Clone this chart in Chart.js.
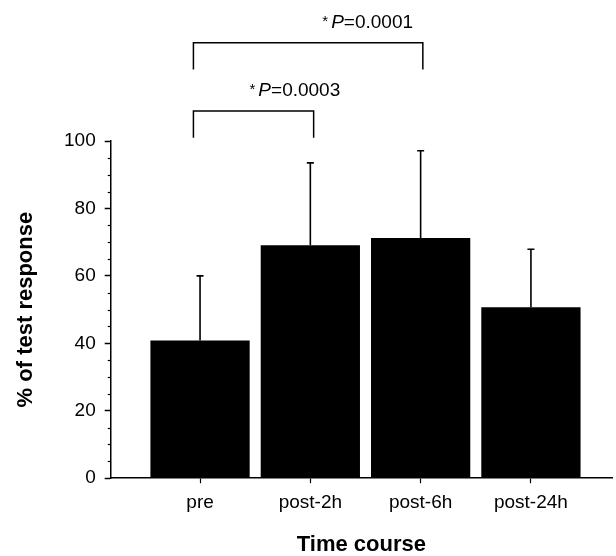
<!DOCTYPE html>
<html>
<head>
<meta charset="utf-8">
<script src="https://cdn.jsdelivr.net/npm/chart.js@4.4.1/dist/chart.umd.min.js"></script>
<style>
  html, body { margin: 0; padding: 0; background: #fff; }
  #wrap { width: 616px; height: 556px; position: relative; }
</style>
</head>
<body>
<div id="wrap"><canvas id="chart"></canvas></div>
<script>
// ── Data ────────────────────────────────────────────────────────────────────
const categories = ['pre', 'post-2h', 'post-6h', 'post-24h'];
const positions = [1, 2, 3, 4];
const means = [40.8, 69.1, 71.2, 50.7];
const sdUpper = [19.2, 24.4, 25.9, 17.2];

// significance brackets (x in category units, y in % units)
const bracketFrom = [0.94, 0.94];
const bracketTo = [3.02, 2.03];
const bracketTop = [129.1, 108.9];
const bracketLeg = [121.2, 101.0];
const bracketP = ['0.0001', '0.0003'];
const bracketTextX = [2.52, 1.86];
const bracketTextY = [135.1, 115.0];

const yMajorTicks = [0, 20, 40, 60, 80, 100];
const yMinorStep = 5;

const FONT = "'Liberation Sans', Arial, Helvetica, sans-serif";

// ── Plugin: error bars, minor ticks, brackets ───────────────────────────────
const extras = {
  id: 'extras',
  afterDraw(chart) {
    const { ctx } = chart;
    const x = chart.scales.x;
    const y = chart.scales.y;
    ctx.save();
    ctx.strokeStyle = '#000';
    ctx.fillStyle = '#000';

    // error bars (upper only)
    ctx.lineWidth = 1.6;
    means.forEach((m, i) => {
      const px = x.getPixelForValue(positions[i]);
      const y0 = y.getPixelForValue(m);
      const y1 = y.getPixelForValue(m + sdUpper[i]);
      ctx.beginPath();
      ctx.moveTo(px, y0);
      ctx.lineTo(px, y1);
      ctx.moveTo(px - 3.5, y1);
      ctx.lineTo(px + 3.5, y1);
      ctx.stroke();
    });

    // minor ticks on the y axis
    ctx.lineWidth = 1.2;
    const axisX = chart.chartArea.left;
    for (let v = y.min; v <= y.max; v += yMinorStep) {
      if (yMajorTicks.includes(v)) continue;
      const py = Math.round(y.getPixelForValue(v)) + 0.5;
      ctx.beginPath();
      ctx.moveTo(axisX - 3, py);
      ctx.lineTo(axisX, py);
      ctx.stroke();
    }

    // brackets
    ctx.lineWidth = 1.5;
    bracketFrom.forEach((from, i) => {
      const xa = x.getPixelForValue(from);
      const xb = x.getPixelForValue(bracketTo[i]);
      const yt = y.getPixelForValue(bracketTop[i]);
      const yl = y.getPixelForValue(bracketLeg[i]);
      ctx.beginPath();
      ctx.moveTo(xa, yl);
      ctx.lineTo(xa, yt);
      ctx.lineTo(xb, yt);
      ctx.lineTo(xb, yl);
      ctx.stroke();

      // "*P=0.000x" label
      const starFont = `15px ${FONT}`;
      const pFont = `italic 19px ${FONT}`;
      const numFont = `19px ${FONT}`;
      const rest = '=' + bracketP[i];
      ctx.font = starFont;
      const wStar = ctx.measureText('*').width + 3;
      ctx.font = pFont;
      const wP = ctx.measureText('P').width;
      ctx.font = numFont;
      const wRest = ctx.measureText(rest).width;
      const total = wStar + wP + wRest;
      let cx = x.getPixelForValue(bracketTextX[i]) - total / 2;
      const cy = y.getPixelForValue(bracketTextY[i]);
      ctx.textBaseline = 'middle';
      ctx.textAlign = 'left';
      ctx.font = starFont;
      ctx.fillText('*', cx, cy - 1);
      cx += wStar;
      ctx.font = pFont;
      ctx.fillText('P', cx, cy);
      cx += wP;
      ctx.font = numFont;
      ctx.fillText(rest, cx, cy);
    });

    ctx.restore();
  }
};

// ── Chart ───────────────────────────────────────────────────────────────────
new Chart(document.getElementById('chart').getContext('2d'), {
  type: 'bar',
  data: {
    datasets: [{
      data: positions.map((p, i) => ({ x: p, y: means[i] })),
      backgroundColor: '#000',
      borderWidth: 0,
      barPercentage: 0.9,
      categoryPercentage: 1
    }]
  },
  options: {
    responsive: true,
    maintainAspectRatio: false,
    animation: false,
    layout: { padding: { top: 141, right: 4, left: 2, bottom: 0 } },
    plugins: {
      legend: { display: false },
      tooltip: { enabled: false }
    },
    scales: {
      x: {
        type: 'linear',
        offset: false,
        min: 0.19,
        max: 4.735,
        afterBuildTicks: scale => {
          scale.ticks = positions.map(v => ({ value: v }));
        },
        ticks: {
          autoSkip: false,
          maxRotation: 0,
          padding: 8,
          color: '#000',
          font: { family: FONT, size: 19 },
          callback: v => categories[positions.indexOf(v)] ?? ''
        },
        grid: {
          offset: false,
          drawOnChartArea: false,
          tickLength: 5,
          tickColor: '#000',
          tickWidth: 1.2
        },
        border: { color: '#000', width: 1.5 },
        title: {
          display: true,
          text: 'Time course',
          color: '#000',
          font: { family: FONT, size: 22, weight: 'bold', lineHeight: 1 },
          padding: { top: 12, bottom: 0 }
        }
      },
      y: {
        min: 0,
        max: 100,
        afterBuildTicks: scale => {
          scale.ticks = yMajorTicks.map(v => ({ value: v }));
        },
        ticks: {
          padding: 9,
          color: '#000',
          font: { family: FONT, size: 19 }
        },
        grid: {
          drawOnChartArea: false,
          tickLength: 6,
          tickColor: '#000',
          tickWidth: 1.5
        },
        border: { color: '#000', width: 1.5 },
        title: {
          display: true,
          text: '% of test response',
          color: '#000',
          font: { family: FONT, size: 22, weight: 'bold', lineHeight: 1 },
          padding: { top: 13, bottom: 18 }
        }
      }
    }
  },
  plugins: [extras]
});
</script>
</body>
</html>
